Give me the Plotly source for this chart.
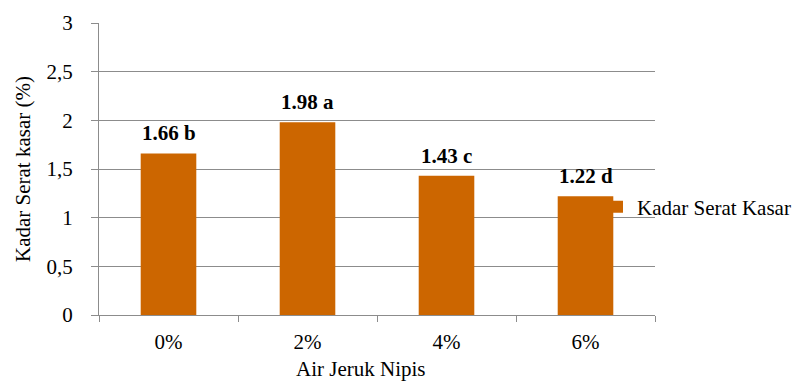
import plotly.graph_objects as go

categories = ["0%", "2%", "4%", "6%"]
values = [1.66, 1.98, 1.43, 1.22]
letters = ["b", "a", "c", "d"]
series_name = "Kadar Serat Kasar"
x_title = "Air Jeruk Nipis"
y_title = "Kadar Serat kasar (%)"

labels = [f"{v:.2f} {l}" for v, l in zip(values, letters)]
FONT = "Liberation Serif, Times New Roman, serif"
FS = 21

fig = go.Figure()
fig.add_trace(go.Bar(
    x=categories, y=values, name=series_name,
    marker=dict(color="#CC6600", line=dict(width=0)),
    showlegend=True,
))

for c, v, t in zip(categories, values, labels):
    fig.add_annotation(x=c, y=v, text=f"<b>{t}</b>", showarrow=False,
                       yanchor="bottom", yshift=6,
                       font=dict(family=FONT, size=FS, color="#000"))

fig.add_annotation(x=(361 - 99) / 556, y=(315 - 369) / 292, xref="paper", yref="paper",
                   text=x_title, showarrow=False, xanchor="center", yanchor="middle",
                   font=dict(family=FONT, size=FS, color="#000"))

fig.update_layout(
    width=801, height=382,
    margin=dict(l=99, r=146, t=23, b=67, autoexpand=False),
    paper_bgcolor="white", plot_bgcolor="white",
    separators=",.",
    bargap=0.6,
    font=dict(family=FONT, size=FS, color="#000"),
    showlegend=True,
    legend=dict(x=(597 - 99) / 556, y=(315 - 207) / 292, xanchor="left", yanchor="middle",
                font=dict(family=FONT, size=FS, color="#000"),
                bgcolor="rgba(0,0,0,0)", itemwidth=30),
    xaxis=dict(
        showline=True, linecolor="#8c8c8c", linewidth=1,
        ticks="outside", tickson="boundaries", ticklen=6, tickcolor="#8c8c8c",
        showgrid=False, tickfont=dict(family=FONT, size=FS),
        ticklabelstandoff=8,
    ),
    yaxis=dict(
        title=dict(text=y_title, standoff=10,
                   font=dict(family=FONT, size=FS)),
        range=[0, 3], dtick=0.5,
        showline=True, linecolor="#8c8c8c", linewidth=1,
        ticks="outside", ticklen=7, tickcolor="#8c8c8c",
        showgrid=True, gridcolor="#8c8c8c", gridwidth=1,
        zeroline=False, tickfont=dict(family=FONT, size=FS),
        ticklabelstandoff=14,
    ),
)

fig.write_html("out.html", config={"displayModeBar": False},
               post_script="document.body.style.margin='0';")
